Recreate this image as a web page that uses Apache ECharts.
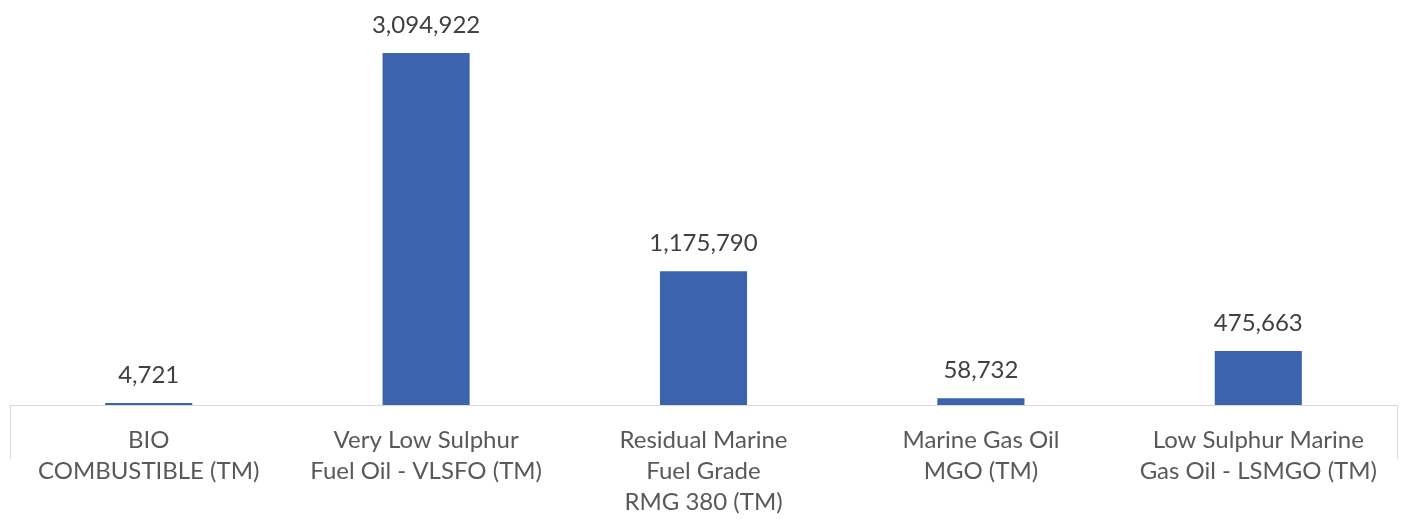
<!DOCTYPE html>
<html>
<head>
<meta charset="utf-8">
<script src="https://cdn.jsdelivr.net/npm/echarts@6/dist/echarts.min.js"></script>
<style>html,body{margin:0;padding:0;background:#fff}#c{width:1405px;height:521px}</style>
</head>
<body>
<div id="c"></div>
<script>
var categories = [
  'BIO\nCOMBUSTIBLE (TM)',
  'Very Low Sulphur\nFuel Oil - VLSFO (TM)',
  'Residual Marine\nFuel Grade\nRMG 380 (TM)',
  'Marine Gas Oil\nMGO (TM)',
  'Low Sulphur Marine\nGas Oil - LSMGO (TM)'
];
var values = [4721, 3094922, 1175790, 58732, 475663];

var chart = echarts.init(document.getElementById('c'));
var font = 'Lato, "Open Sans", sans-serif';
chart.setOption({
  animation: false,
  grid: {left: 10, right: 8, top: 7, bottom: 116, containLabel: false},
  xAxis: [{
    type: 'category',
    data: categories,
    axisLine: {lineStyle: {color: '#d9d9d9', width: 1}},
    axisTick: {show: false},
    axisLabel: {color: '#595959', fontFamily: font, fontSize: 24, lineHeight: 31, margin: 20, interval: 0}
  }, {
    type: 'value', position: 'bottom', min: 0, max: 1, interval: 1,
    axisLine: {show: false}, splitLine: {show: false}, axisLabel: {show: false},
    axisTick: {show: true, inside: false, length: 54, lineStyle: {color: '#d9d9d9'}}
  }],
  yAxis: {type: 'value', min: 0, max: 3500000, show: false, splitLine: {show: false}},
  series: [{
    type: 'bar',
    data: values,
    barWidth: '31.4%',
    barMinHeight: 2,
    itemStyle: {color: '#3c64ae'},
    label: {
      show: true, position: 'top', distance: 16,
      color: '#404040', fontFamily: font, fontSize: 24,
      formatter: function (p) { return p.value.toLocaleString('en-US'); }
    }
  }]
});
</script>
</body>
</html>
